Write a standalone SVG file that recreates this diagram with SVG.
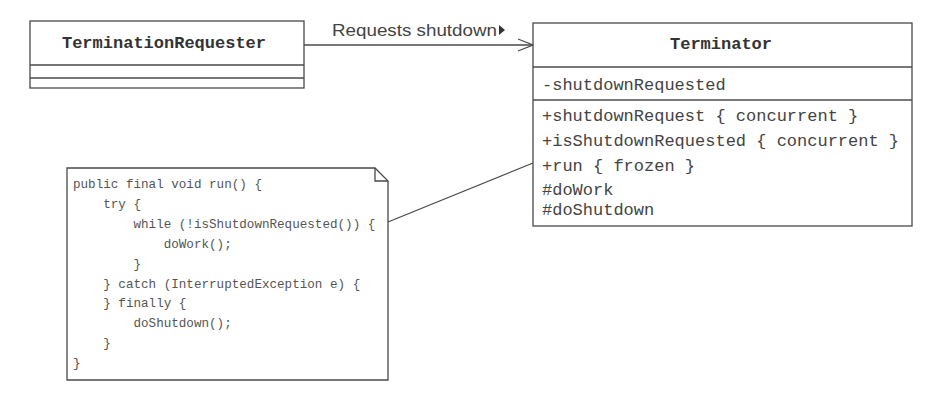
<svg xmlns="http://www.w3.org/2000/svg" width="937" height="411" viewBox="0 0 937 411">
<style>
.box{fill:#fff;stroke:#4a4a4a;stroke-width:1.3}
.ln{stroke:#4a4a4a;stroke-width:1.3;fill:none}
.title{font-family:"Liberation Mono",monospace;font-weight:bold;font-size:17px;fill:#333;text-anchor:middle}
.mem{font-family:"Liberation Mono",monospace;font-size:17px;fill:#444}
.code{font-family:"Liberation Mono",monospace;font-size:12.6px;fill:#555;white-space:pre}
.lbl{font-family:"Liberation Sans",Arial,sans-serif;font-size:17px;fill:#444}
</style>
<rect width="937" height="411" fill="#fff"/>
<g id="connectors">
  <line class="ln" x1="304" y1="45" x2="533" y2="45"/>
  <polyline class="ln" points="518,39 533,45 518,51"/>
  <text class="lbl" x="332" y="36" textLength="165" lengthAdjust="spacingAndGlyphs">Requests shutdown</text>
  <polygon points="499,25 505,30 499,35" fill="#333"/>
  <line class="ln" x1="388" y1="222" x2="533" y2="163"/>
</g>
<g id="TerminationRequester">
  <rect class="box" x="30" y="21" width="274" height="67"/>
  <line class="ln" x1="30" y1="65" x2="304" y2="65"/>
  <line class="ln" x1="30" y1="78" x2="304" y2="78"/>
  <text class="title" x="164" y="48">TerminationRequester</text>
</g>
<g id="Terminator">
  <rect class="box" x="533" y="23" width="379" height="203"/>
  <line class="ln" x1="533" y1="67" x2="912" y2="67"/>
  <line class="ln" x1="533" y1="100" x2="912" y2="100"/>
  <text class="title" x="721" y="49">Terminator</text>
  <text class="mem" x="542" y="90">-shutdownRequested</text>
  <text class="mem" x="542" y="121">+shutdownRequest { concurrent }</text>
  <text class="mem" x="542" y="146">+isShutdownRequested { concurrent }</text>
  <text class="mem" x="542" y="171">+run { frozen }</text>
  <text class="mem" x="542" y="195">#doWork</text>
  <text class="mem" x="542" y="215">#doShutdown</text>
</g>
<g id="note">
  <path class="box" d="M67,168 H375 L388,181 V380 H67 Z"/>
  <path class="ln" d="M375,168 V181 H388"/>
  <text class="code" x="73" y="188">public final void run() {</text>
  <text class="code" x="73" y="208">    try {</text>
  <text class="code" x="73" y="228">        while (!isShutdownRequested()) {</text>
  <text class="code" x="73" y="248">            doWork();</text>
  <text class="code" x="73" y="268">        }</text>
  <text class="code" x="73" y="288">    } catch (InterruptedException e) {</text>
  <text class="code" x="73" y="307">    } finally {</text>
  <text class="code" x="73" y="327">        doShutdown();</text>
  <text class="code" x="73" y="347">    }</text>
  <text class="code" x="73" y="367">}</text>
</g>
</svg>
